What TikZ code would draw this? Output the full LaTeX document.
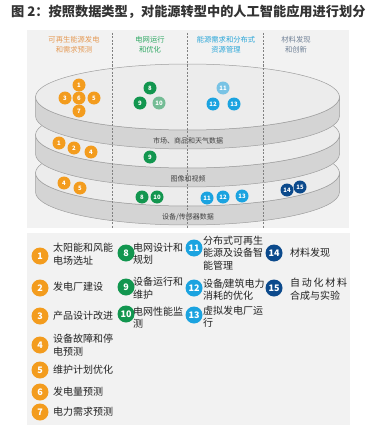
\documentclass[tikz,border=0pt]{standalone}
\usepackage{fontspec}
\newfontfamily\cjk{Noto Sans CJK SC}
\definecolor{bgc}{HTML}{F2F2F2}
\definecolor{facec}{HTML}{ECECEC}
\definecolor{sidec}{HTML}{D4D4D4}
\definecolor{edgec}{HTML}{9E9E9E}
\definecolor{cOr}{HTML}{F39C1E}
\definecolor{cGr}{HTML}{12964F}
\definecolor{cBl}{HTML}{1BA3E0}
\definecolor{cDb}{HTML}{0C4A8C}
\definecolor{lOr}{HTML}{E59A55}
\definecolor{lGr}{HTML}{2EA863}
\definecolor{lBl}{HTML}{2AA6D8}
\definecolor{lGy}{HTML}{6F8096}
\definecolor{txt}{HTML}{222222}
\tikzset{
  num/.style={circle, inner sep=0pt, minimum size=13pt, text=white, font=\cjk\bfseries\fontsize{6}{6}\selectfont},
  nor/.style={num, fill=cOr}, ngr/.style={num, fill=cGr}, nbl/.style={num, fill=cBl}, ndb/.style={num, fill=cDb},
  big/.style={circle, inner sep=0pt, minimum size=17pt, text=white, font=\cjk\bfseries\fontsize{9}{9}\selectfont},
  bor/.style={big, fill=cOr}, bgr/.style={big, fill=cGr}, bbl/.style={big, fill=cBl}, bdb/.style={big, fill=cDb},
  lt/.style={anchor=west, align=left, inner sep=0pt, text=txt, font=\cjk\fontsize{10}{12.5}\selectfont},
  coltitle/.style={align=center, inner sep=0pt, font=\cjk\fontsize{7.3}{10}\selectfont},
  bandlab/.style={inner sep=0pt, text=black!75, font=\cjk\fontsize{7}{7}\selectfont},
  divider/.style={draw=black!50, dashed, line width=0.4pt, dash pattern=on 2pt off 1.5pt}
}
\begin{document}
\begin{tikzpicture}[x=1pt,y=-1pt]
\useasboundingbox (0,0) rectangle (375,428);
\fill[white] (0,0) rectangle (375,428);
% title
\node[anchor=west, inner sep=0pt, text=black!80, font=\cjk\bfseries\fontsize{13.2}{14}\selectfont] (title) at (11,12) {图 2：按照数据类型，对能源转型中的人工智能应用进行划分};
% panels
\fill[bgc] (27,30) rectangle (349,228);
\fill[bgc] (27,233) rectangle (350,425);
% column titles
\node[coltitle, text=lOr] (c1) at (74,45) {可再生能源发电\\和需求预测};
\node[coltitle, text=lGr] (c2) at (150,45) {电网运行\\和优化};
\node[coltitle, text=lBl] (c3) at (226,45) {能源需求和分布式\\资源管理};
\node[coltitle, text=lGy] (c4) at (296,45) {材料发现\\和创新};
% discs
\foreach \cy/\lab in {173/{设备/传感器数据}, 135/{图像和视频}, 97/{市场、商品和天气数据}} {
  \fill[sidec, draw=edgec, line width=0.5pt] (35.5,\cy) -- (35.5,\cy+19) arc[start angle=180, end angle=0, x radius=152, y radius=33] -- (339.5,\cy) arc[start angle=0, end angle=180, x radius=152, y radius=33] -- cycle;
  \fill[facec, draw=edgec, line width=0.5pt] (187.5,\cy) ellipse [x radius=152, y radius=33];
  \node[bandlab] at (188,\cy+44) {\lab};
}
% dividers
\draw[divider] (112,33) -- (112,228);
\draw[divider] (187.5,33) -- (187.5,228);
\draw[divider] (263,33) -- (263,228);
% disc markers: top disc
\node[nor] (t1) at (79,85) {1};
\node[nor] (t3) at (65,98) {3};
\node[nor] (t6) at (79,98) {6};
\node[nor] (t5) at (94,98) {5};
\node[nor] (t7) at (79,111) {7};
\node[ngr] (t8) at (150,88) {8};
\node[ngr] (t9) at (140,103) {9};
\node[ngr, opacity=0.55, text opacity=1] (t10) at (159,103) {10};
\node[nbl, opacity=0.55, text opacity=1] (t11) at (223,88) {11};
\node[nbl] (t12) at (213,104) {12};
\node[nbl] (t13) at (234,104) {13};
% middle disc
\node[nor] (m1) at (59,143) {1};
\node[nor] (m2) at (74,148) {2};
\node[nor] (m4) at (91,152) {4};
\node[ngr] (m9) at (150,157) {9};
% bottom disc
\node[nor] (b4) at (64,183) {4};
\node[nor] (b5) at (80,188) {5};
\node[ngr] (b8) at (142,197) {8};
\node[ngr] (b10) at (157,197) {10};
\node[nbl] (b11) at (207,198) {11};
\node[nbl] (b12) at (223,197) {12};
\node[nbl] (b13) at (242,196) {13};
\node[ndb] (b14) at (287,190) {14};
\node[ndb] (b15) at (300,187) {15};
% legend column 1
\node[bor] (l1) at (40,256) {1};
\node[lt] (l1t) at (53,254) {太阳能和风能\\电场选址};
\node[bor] (l2) at (40,288) {2};
\node[lt] (l2t) at (53,287) {发电厂建设};
\node[bor] (l3) at (40,316) {3};
\node[lt] (l3t) at (53,315.5) {产品设计改进};
\node[bor] (l4) at (40,345) {4};
\node[lt] (l4t) at (53,345) {设备故障和停\\电预测};
\node[bor] (l5) at (40,370) {5};
\node[lt] (l5t) at (53,370) {维护计划优化};
\node[bor] (l6) at (40,392) {6};
\node[lt] (l6t) at (53,392) {发电量预测};
\node[bor] (l7) at (40,412) {7};
\node[lt] (l7t) at (53,412) {电力需求预测};
% legend column 2
\node[bgr] (l8) at (126,253) {8};
\node[lt] (l8t) at (133,253.5) {电网设计和\\规划};
\node[bgr] (l9) at (126,287) {9};
\node[lt] (l9t) at (133,288) {设备运行和\\维护};
\node[bgr] (l10) at (126,314) {10};
\node[lt] (l10t) at (133,317.5) {电网性能监\\测};
% legend column 3
\node[bbl] (l11) at (194,248) {11};
\node[lt] (l11t) at (203,253) {分布式可再生\\能源及设备智\\能管理};
\node[bbl] (l12) at (194,288) {12};
\node[lt] (l12t) at (203,289.5) {设备\kern-1.2pt/\kern-1.2pt建筑电力\\消耗的优化};
\node[bbl] (l13) at (194,315) {13};
\node[lt] (l13t) at (203,316.5) {虚拟发电厂运\\行};
% legend column 4
\node[bdb] (l14) at (274,253) {14};
\node[lt] (l14t) at (290,253) {材料发现};
\node[bdb] (l15) at (274,288) {15};
\node[lt] (l15t) at (290,289) {\makebox[57pt][s]{自\hfill 动\hfill 化\hfill 材\hfill 料}\\合成与实验};
\end{tikzpicture}
\end{document}
